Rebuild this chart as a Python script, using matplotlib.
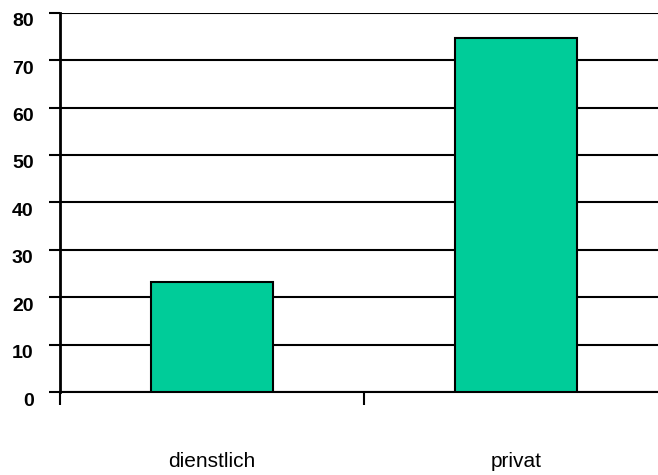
import matplotlib
matplotlib.use("Agg")
import matplotlib.pyplot as plt
from matplotlib.transforms import ScaledTranslation

categories = ["dienstlich", "privat"]
values = [23.1, 74.6]
y_ticks = [0, 10, 20, 30, 40, 50, 60, 70, 80]

plt.rcParams["font.family"] = ["Liberation Sans", "DejaVu Sans"]

fig = plt.figure(figsize=(6.58, 4.75), dpi=100)
ax = fig.add_axes([60 / 658, 1 - 392 / 475, 608 / 658, 379.3 / 475])

positions = [i + 0.5 for i in range(len(categories))]
ax.bar(positions, values, width=0.4, color="#00CC99", edgecolor="black",
       linewidth=1.5, zorder=3)

ax.set_xlim(0, len(categories))
ax.set_ylim(0, 80)

# horizontal gridlines
ax.set_yticks(y_ticks)
ax.yaxis.grid(True, color="black", linewidth=1.5, zorder=1)
ax.set_axisbelow(True)

# category separators as major ticks, labels on minor ticks
ax.set_xticks(range(len(categories) + 1))
ax.set_xticklabels([])
ax.set_xticks(positions, minor=True)
ax.set_xticklabels(categories, minor=True, fontsize=15)
ax.tick_params(axis="x", which="major", direction="out", length=9.5,
               width=1.5, color="black")
ax.tick_params(axis="x", which="minor", length=0, pad=43)

ax.tick_params(axis="y", direction="out", length=8, width=1.5, pad=11,
               labelsize=14)
for lab in ax.get_yticklabels():
    lab.set_fontweight("bold")
    lab.set_transform(lab.get_transform() +
                      ScaledTranslation(0, -7 / 100, fig.dpi_scale_trans))

for side in ["top", "right"]:
    ax.spines[side].set_visible(False)
ax.spines["left"].set_linewidth(2)
ax.spines["left"].set_bounds(0, 80)
ax.spines["bottom"].set_linewidth(1.5)

fig.savefig("out.png", dpi=100)
